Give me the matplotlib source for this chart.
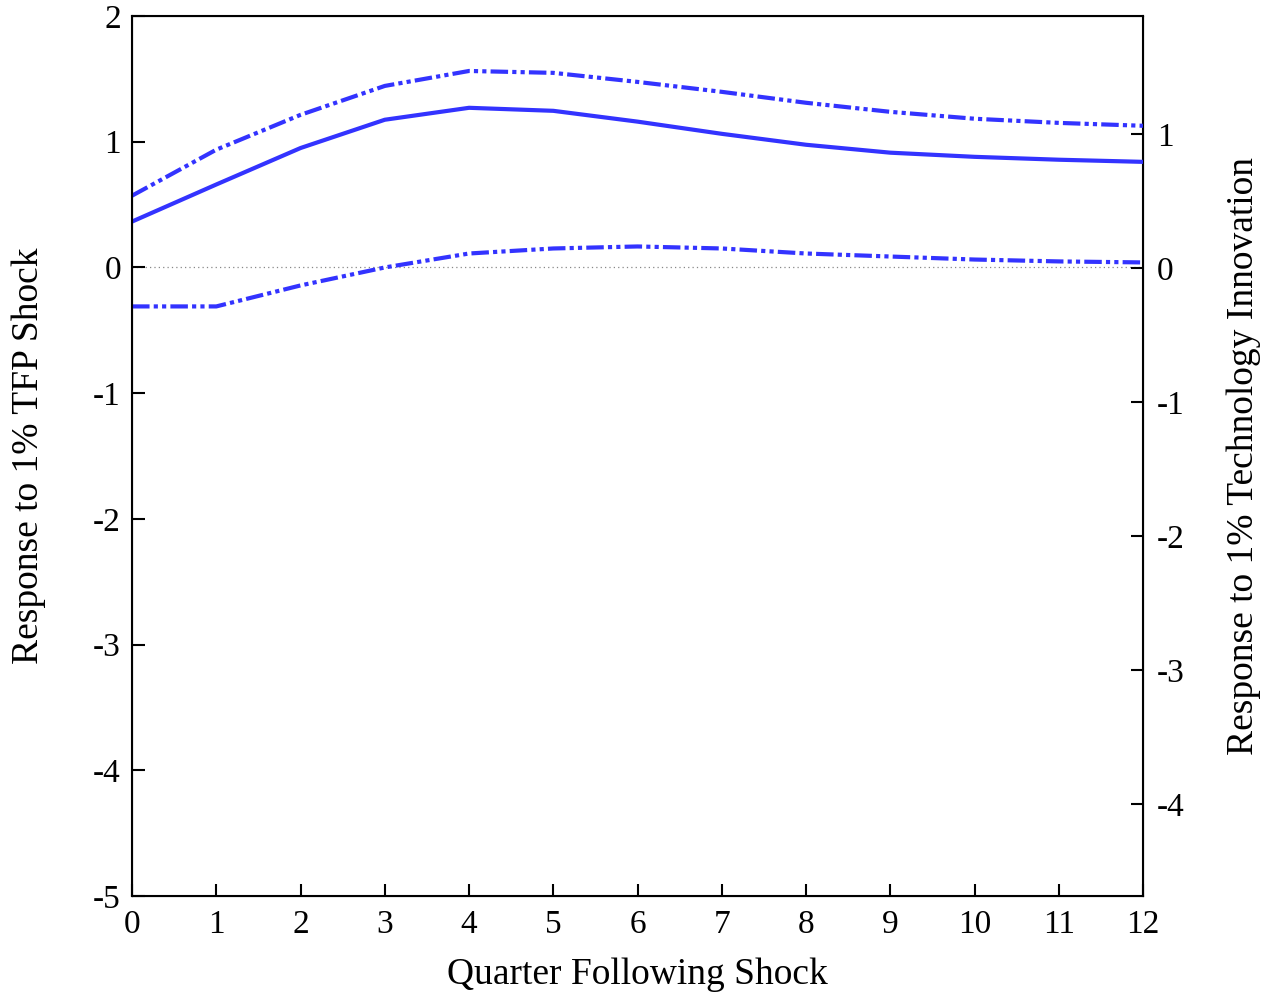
import matplotlib
matplotlib.use("Agg")
import matplotlib.pyplot as plt

quarters = list(range(13))
response = [0.365, 0.66, 0.95, 1.175, 1.27, 1.246, 1.16, 1.063, 0.976, 0.913, 0.88, 0.857, 0.84]
upper = [0.571, 0.937, 1.214, 1.444, 1.563, 1.548, 1.476, 1.397, 1.31, 1.238, 1.183, 1.15, 1.127]
lower = [-0.31, -0.31, -0.143, 0.0, 0.111, 0.151, 0.167, 0.151, 0.111, 0.087, 0.063, 0.048, 0.04]

left_ticks = [-5, -4, -3, -2, -1, 0, 1, 2]
right_ticks = [-4, -3, -2, -1, 0, 1]

plt.rcParams['font.family'] = ['Liberation Serif', 'DejaVu Serif']
plt.rcParams['font.size'] = 24

fig = plt.figure(figsize=(12.71, 9.96), dpi=100)
ax = fig.add_axes([0.1039, 0.1004, 0.7954, 0.8835])

blue = '#3333ff'
dashdotdot = (0, (4.2, 1.0, 1.0, 1.0, 1.0, 1.0))

ax.axhline(0, color='#888888', lw=0.9, ls=(0, (1, 2.5)), zorder=1)
ax.plot(quarters, response, color=blue, lw=3.0, solid_capstyle='butt', zorder=3)
ax.plot(quarters, upper, color=blue, lw=3.0, ls=dashdotdot, dash_capstyle='butt', zorder=3)
ax.plot(quarters, lower, color=blue, lw=3.0, ls=dashdotdot, dash_capstyle='butt', zorder=3)

ax.set_xlim(0, 12)
ax.set_ylim(-5, 2)
ax.set_xticks(quarters)
ax.set_yticks(left_ticks)
ax.set_yticklabels([str(t) for t in left_ticks])
ax.tick_params(axis='both', direction='in', length=9, width=1.5, labelsize=24, pad=8)
ax.tick_params(axis='x', pad=10)
for s in ax.spines.values():
    s.set_linewidth(1.5)

ax.set_xlabel('Quarter Following Shock', fontsize=27, labelpad=12)
ax.set_ylabel('Response to 1% TFP Shock', fontsize=27, labelpad=34)

ax2 = ax.twinx()
ax2.set_ylim(-628/134, 252/134)
ax2.set_yticks(right_ticks)
ax2.set_yticklabels([str(t) for t in right_ticks])
ax2.tick_params(axis='y', direction='in', length=9, width=1.5, labelsize=24, pad=10)
ax2.set_ylabel('Response to 1% Technology Innovation', fontsize=27, labelpad=30)

fig.savefig('out.png', dpi=100)
